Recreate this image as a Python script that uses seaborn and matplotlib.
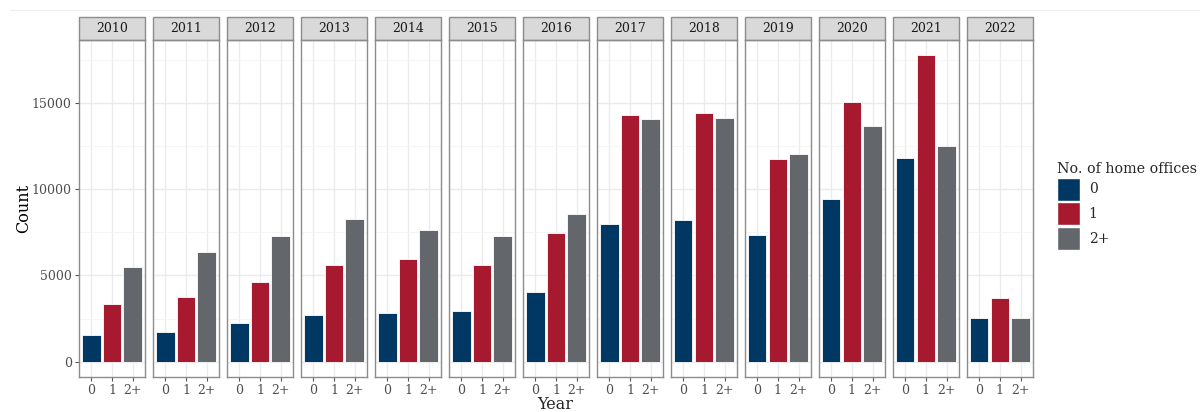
import numpy as np
import pandas as pd
import matplotlib
matplotlib.use("Agg")
import matplotlib.pyplot as plt
from matplotlib.patches import Rectangle, Patch
from matplotlib.lines import Line2D
import seaborn as sns

years = [2010, 2011, 2012, 2013, 2014, 2015, 2016, 2017, 2018, 2019, 2020, 2021, 2022]
categories = ["0", "1", "2+"]
count_0 = [1550, 1720, 2230, 2690, 2830, 2920, 4010, 8000, 8200, 7350, 9450, 11820, 2520]
count_1 = [3320, 3760, 4590, 5600, 5950, 5600, 7440, 14280, 14380, 11740, 15060, 17750, 3660]
count_2 = [5470, 6340, 7300, 8280, 7620, 7270, 8530, 14070, 14110, 12010, 13640, 12480, 2520]
colors = ["#003763", "#A6192E", "#63666A"]

rows = []
for i, y in enumerate(years):
    for c, v in zip(categories, [count_0[i], count_1[i], count_2[i]]):
        rows.append({"Year": y, "offices": c, "Count": v})
df = pd.DataFrame(rows)

sns.set_style("white")
plt.rcParams["font.family"] = ["DejaVu Serif"]

fig, axes = plt.subplots(1, len(years), figsize=(12, 4.12), dpi=100, sharey=True)
fig.subplots_adjust(left=0.0656, right=0.861, top=0.903, bottom=0.085, wspace=0.111)

allv = count_0 + count_1 + count_2
ymax = max(allv) * 1.05
ymin = -0.05 * max(allv)
pal = dict(zip(categories, colors))
for ax, y in zip(axes, years):
    sub = df[df["Year"] == y]
    sns.barplot(data=sub, x="offices", y="Count", hue="offices", order=categories,
                hue_order=categories, palette=pal, width=0.9, dodge=False,
                saturation=1, legend=False, ax=ax, edgecolor="white",
                linewidth=0.6, zorder=3)
    ax.set_xlim(-0.6, 2.6)
    ax.set_ylim(ymin, ymax)
    ax.set_yticks([0, 5000, 10000, 15000])
    ax.set_yticks([2500, 7500, 12500, 17500], minor=True)
    ax.set_xticks([0, 1, 2])
    ax.set_xticklabels(categories)
    ax.grid(True, which="major", color="#EBEBEB", linewidth=1.0, zorder=0)
    ax.grid(True, which="minor", axis="y", color="#F4F4F4", linewidth=0.6, zorder=0)
    ax.set_axisbelow(True)
    for s in ax.spines.values():
        s.set_color("#8C8C8C")
        s.set_linewidth(1.0)
        s.set_visible(True)
    ax.tick_params(axis="both", which="major", length=3, color="#555555", width=0.8,
                   labelsize=9, labelcolor="#4D4D4D", direction="out", pad=2,
                   left=True, bottom=True)
    ax.tick_params(axis="y", which="minor", length=0)
    ax.set_xlabel("")
    ax.set_ylabel("")
    strip_h = 0.068
    ax.add_patch(Rectangle((0, 1.0), 1, strip_h, transform=ax.transAxes, clip_on=False,
                           facecolor="#D9D9D9", edgecolor="#8C8C8C", linewidth=1.0))
    ax.text(0.5, 1.0 + strip_h / 2, str(y), transform=ax.transAxes, ha="center",
            va="center", fontsize=9, color="#1A1A1A")

axes[0].set_ylabel("Count", fontsize=11.5, color="black", labelpad=0)
for ax in axes[1:]:
    ax.tick_params(axis="y", which="both", left=False, labelleft=False)

fig.text(0.4625, 0.018, "Year", ha="center", va="center", fontsize=11.5)

handles = [Patch(facecolor=c, edgecolor="white", label=l) for c, l in zip(colors, categories)]
leg = fig.legend(handles=handles, title="No. of home offices", loc="upper left",
                 bbox_to_anchor=(0.876, 0.62), frameon=False, fontsize=10,
                 title_fontsize=10.3, handlelength=1.7, handleheight=2.2,
                 handletextpad=0.6, labelspacing=0.1, borderaxespad=0)
leg._legend_box.align = "left"

fig.add_artist(Line2D([0.008, 1.0], [0.975, 0.975], color="#EEEEEE", linewidth=0.8))

fig.savefig("out.png", dpi=100, facecolor="white")
